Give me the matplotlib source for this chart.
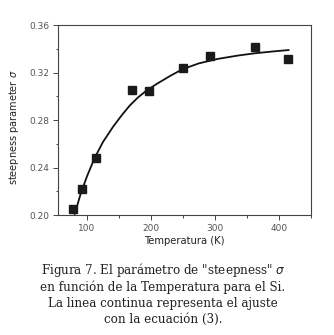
import matplotlib
matplotlib.use("Agg")
import matplotlib.pyplot as plt
from matplotlib.ticker import MultipleLocator

# measured points
temp = [79, 92, 114, 171, 197, 250, 292, 363, 414]
sigma = [0.205, 0.222, 0.248, 0.3057, 0.3043, 0.3239, 0.334, 0.3418, 0.3312]

# fitted curve
fit_t = [81, 90, 100, 112, 125, 141, 155, 167, 180, 193, 210, 230, 249, 275,
         304, 335, 361, 390, 415]
fit_s = [0.201, 0.2175, 0.2325, 0.248, 0.2615, 0.2745, 0.2845, 0.2923, 0.2992,
         0.3048, 0.3108, 0.3172, 0.3228, 0.3278, 0.3315, 0.3343, 0.3362, 0.3378, 0.339]

caption = ['Figura 7. El parámetro de "steepness" $\\sigma$',
           'en función de la Temperatura para el Si.',
           'La linea continua representa el ajuste',
           'con la ecuación (3).']

fig = plt.figure(figsize=(3.34, 3.35), dpi=100)
ax = fig.add_axes([0.174, 0.358, 0.757, 0.567])

ax.plot(fit_t, fit_s, color='#111111', lw=1.3)
ax.plot(temp, sigma, 's', color='#1a1a1a', markersize=5.5)

ax.set_xlim(55, 450)
ax.set_ylim(0.20, 0.36)
ax.xaxis.set_major_locator(MultipleLocator(100))
ax.xaxis.set_minor_locator(MultipleLocator(50))
ax.yaxis.set_major_locator(MultipleLocator(0.04))
ax.yaxis.set_minor_locator(MultipleLocator(0.02))
ax.tick_params(which='both', direction='out', labelsize=6.5, labelcolor='#555555',
               color='#444444', width=0.7)
ax.tick_params(which='major', length=3.5, pad=3)
ax.tick_params(which='minor', length=1.8)
ax.yaxis.set_major_formatter(plt.FuncFormatter(lambda v, p: f"{v:.2f}"))
for s in ax.spines.values():
    s.set_linewidth(0.8)
    s.set_color('#444444')

ax.set_xlabel('Temperatura (K)', fontsize=7.2, color='#222222', labelpad=2)
ax.set_ylabel('steepness parameter $\\sigma$', fontsize=7, color='#222222')
ax.yaxis.set_label_coords(-0.145, 0.46)

ys = [0.194, 0.143, 0.094, 0.046]
for line, y in zip(caption, ys):
    fig.text(0.488, y, line, ha='center', va='center', fontsize=8.6,
             family='DejaVu Serif', color='#222222')

fig.savefig('out.png', dpi=100)
